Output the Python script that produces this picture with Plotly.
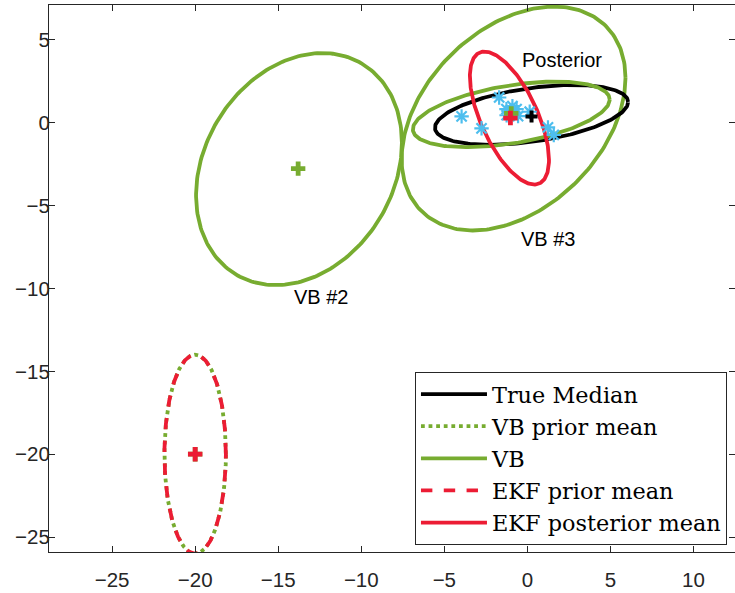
import numpy as np
import plotly.graph_objects as go

# ---------------- data ----------------
# ellipses: name, centre, covariance-like shape (xx, xy, yy)
ell_names = ["True Median", "VB prior mean", "VB", "VB #2", "VB #3", "EKF prior mean", "EKF posterior mean"]
ell_cx = [0.25, -20.0, -0.97, -13.75, -0.83, -20.0, -1.08]
ell_cy = [0.47, -20.0, 0.50, -2.80, 0.25, -20.0, 0.28]
ell_sxx = [33.8, 3.42, 35.1, 38.4, 45.4, 3.42, 5.67]
ell_sxy = [4.5, 0.0, 5.3, 9.8, 16.5, 0.0, -6.0]
ell_syy = [3.26, 36.0, 3.92, 49.0, 45.6, 36.0, 16.1]

# mean markers (plus signs)
mean_x = [-13.8, -20.0, -20.0, -0.97, 0.25, -1.02]
mean_y = [-2.77, -20.0, -20.0, 0.56, 0.38, 0.28]
mean_kind = ["VB", "VB", "EKF", "VB", "True", "EKF"]

# particles (asterisks)
part_x = [-3.96, -1.70, -2.76, -1.26, -0.90, -0.65, -0.56, -1.25, 0.14, 1.24, 1.59]
part_y = [0.38, 1.52, -0.34, 0.82, 1.00, 0.82, 0.40, 0.45, 0.66, -0.28, -0.74]

# text labels
lab_text = ["Posterior", "VB #3", "VB #2"]
lab_x = [2.07, 1.23, -12.4]
lab_y = [3.8, -7.0, -10.5]

x_ticks = [-25, -20, -15, -10, -5, 0, 5, 10]
y_ticks = [-25, -20, -15, -10, -5, 0, 5]

# ---------------- styles ----------------
GREEN = "#77AC30"
RED = "#EC1C34"
BLUE = "#4DBEEE"
BLACK = "#000000"
LW = 3.8
SANS = "Liberation Sans, Arial, sans-serif"

style = {
    "True Median": dict(color=BLACK, dash="solid", legend=True),
    "VB prior mean": dict(color=GREEN, dash="dot", legend=True),
    "VB": dict(color=GREEN, dash="solid", legend=True),
    "VB #2": dict(color=GREEN, dash="solid", legend=False),
    "VB #3": dict(color=GREEN, dash="solid", legend=False),
    "EKF prior mean": dict(color=RED, dash="dash", legend=True),
    "EKF posterior mean": dict(color=RED, dash="solid", legend=True),
}
mean_col = {"VB": GREEN, "EKF": RED, "True": BLACK}


def ellipse(cx, cy, sxx, sxy, syy, n=240):
    L = np.linalg.cholesky(np.array([[sxx, sxy], [sxy, syy]]))
    t = np.linspace(0, 2 * np.pi, n)
    u = np.vstack([np.cos(t), np.sin(t)])
    p = L @ u
    return cx + p[0], cy + p[1]


fig = go.Figure()

order = ["VB #2", "VB #3", "VB prior mean", "EKF prior mean", "True Median", "VB", "EKF posterior mean"]
legend_rank = {"True Median": 1, "VB prior mean": 2, "VB": 3, "EKF prior mean": 4, "EKF posterior mean": 5}
for name in order:
    i = ell_names.index(name)
    xs, ys = ellipse(ell_cx[i], ell_cy[i], ell_sxx[i], ell_sxy[i], ell_syy[i])
    st = style[name]
    fig.add_trace(go.Scatter(
        x=xs, y=ys, mode="lines", name=name,
        line=dict(color=st["color"], width=LW, dash=st["dash"]),
        showlegend=st["legend"], legendrank=legend_rank.get(name, 100),
        hoverinfo="skip"))

# particles
fig.add_trace(go.Scatter(
    x=part_x, y=part_y, mode="markers", showlegend=False,
    marker=dict(symbol="asterisk-open", size=12, color=BLUE, line=dict(color=BLUE, width=2.2))))

# means
for k in ["VB", "True", "EKF"]:
    xs = [mean_x[i] for i in range(len(mean_x)) if mean_kind[i] == k]
    ys = [mean_y[i] for i in range(len(mean_y)) if mean_kind[i] == k]
    fig.add_trace(go.Scatter(
        x=xs, y=ys, mode="markers", showlegend=False,
        marker=dict(symbol="cross", size=12 if k != "True" else 10, color=mean_col[k], line=dict(width=0))))

for t, x, y in zip(lab_text, lab_x, lab_y):
    fig.add_annotation(x=x, y=y, text=t, showarrow=False,
                       font=dict(family=SANS, size=20, color="#000000"))

axis_common = dict(
    showline=True, linecolor="#262626", linewidth=1, mirror="ticks",
    ticks="inside", ticklen=6, tickwidth=1, tickcolor="#262626",
    showgrid=False, zeroline=False, automargin=False,
    tickfont=dict(family=SANS, size=20.5, color="#262626"),
)
fig.update_xaxes(range=[-28.8, 12.5], tickvals=x_ticks, ticklabelstandoff=9, **axis_common)
fig.update_yaxes(range=[-25.9, 7.1], tickvals=y_ticks, ticklabelstandoff=-6, **axis_common)

fig.update_layout(
    width=735, height=593,
    margin=dict(l=49, r=0, t=5, b=41, autoexpand=False),
    paper_bgcolor="white", plot_bgcolor="white",
    legend=dict(x=0.9883, y=0.0128, xanchor="right", yanchor="bottom",
                bgcolor="white", bordercolor="#262626", borderwidth=1,
                font=dict(family="DejaVu Serif, serif", size=22.4, color="#000000"),
                itemwidth=66, tracegroupgap=0),
)

fig.write_html("out.html", config={"displayModeBar": False},
               post_script="document.body.style.margin='0px'; document.body.style.overflow='hidden';")
